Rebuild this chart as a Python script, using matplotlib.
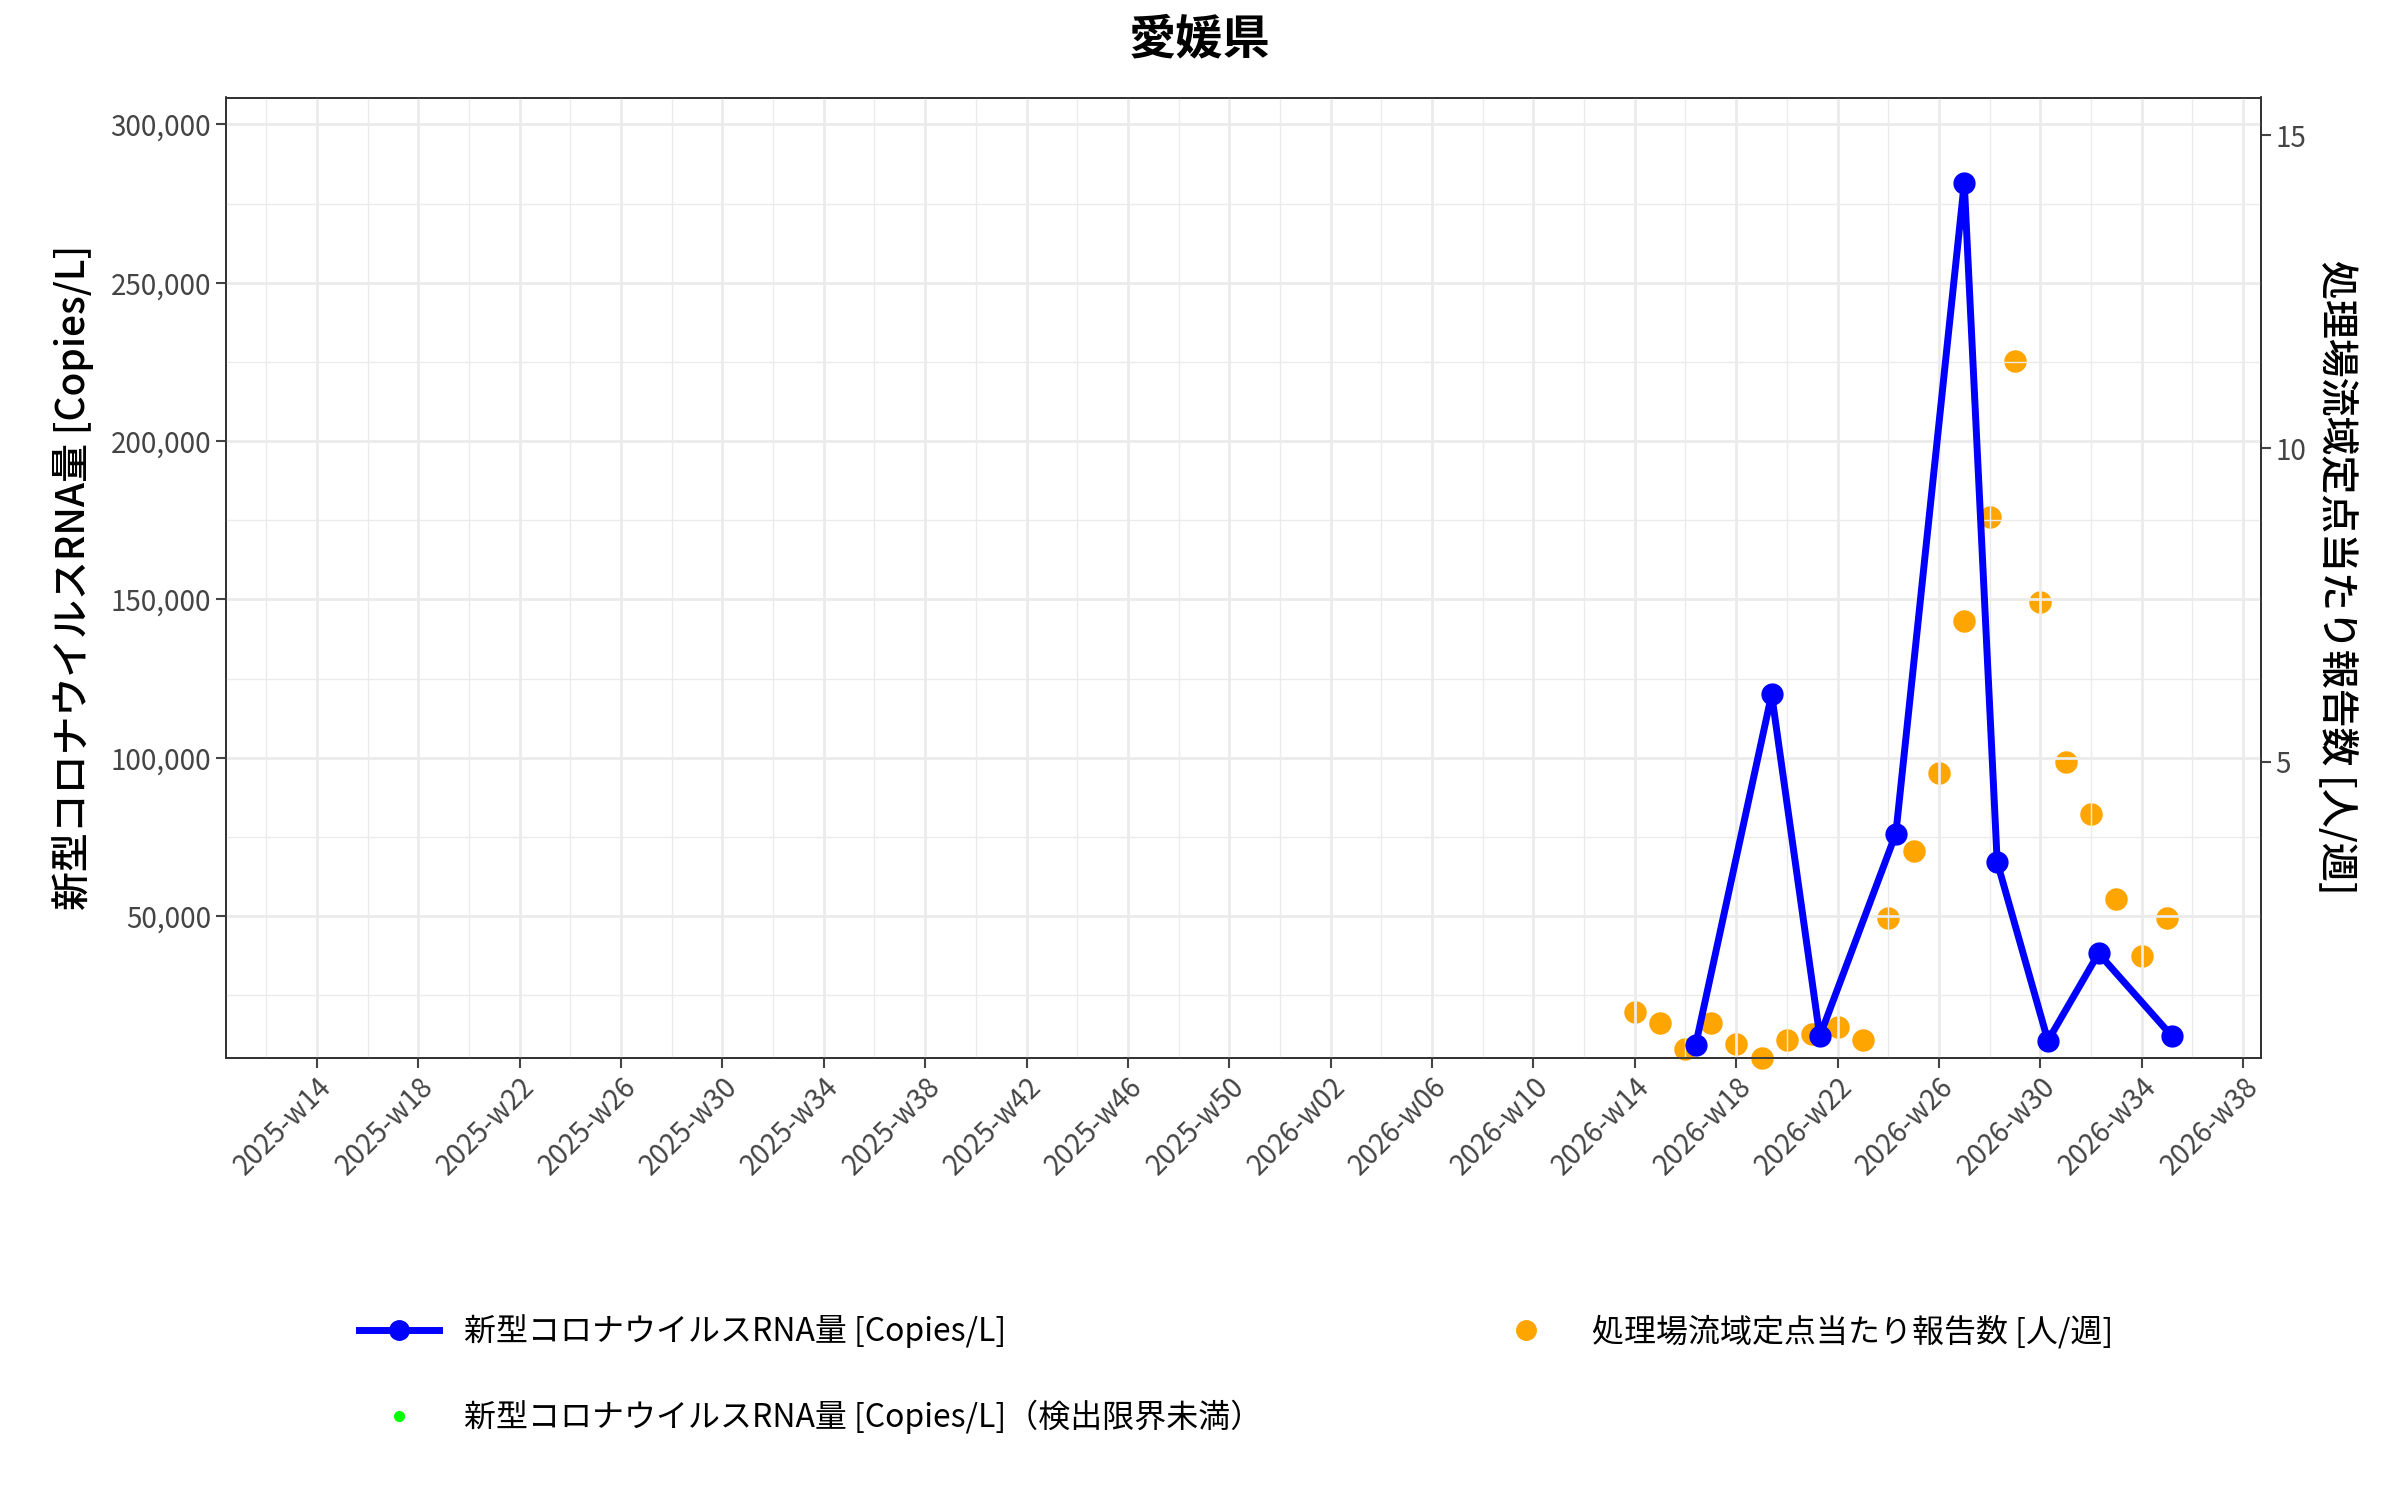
import matplotlib
matplotlib.use("Agg")
import matplotlib.pyplot as plt
from matplotlib.lines import Line2D

plt.rcParams['font.family'] = ['Noto Sans CJK JP', 'DejaVu Sans']

# x index: 2025-wK -> K-14 ; 2026-wK -> 38+K
tick_labels = ["2025-w14","2025-w18","2025-w22","2025-w26","2025-w30","2025-w34","2025-w38",
               "2025-w42","2025-w46","2025-w50","2026-w02","2026-w06","2026-w10","2026-w14",
               "2026-w18","2026-w22","2026-w26","2026-w30","2026-w34","2026-w38"]
tick_pos = list(range(0, 80, 4))

rna_x = [54.4, 57.4, 59.3, 62.3, 65.0, 66.3, 68.3, 70.3, 73.2]
rna_y = [9200, 120000, 12000, 76000, 281500, 67000, 10600, 38200, 12000]

rep_x = list(range(52, 74))
rep_y = [1.0, 0.83, 0.42, 0.83, 0.49, 0.27, 0.56, 0.66, 0.76, 0.56, 2.5, 3.57,
         4.82, 7.24, 8.9, 11.4, 7.55, 5.0, 4.16, 2.81, 1.9, 2.5]

fig = plt.figure(figsize=(24, 15), dpi=100)
ax = fig.add_axes([0.094, 0.295, 0.848, 0.64])
ax2 = ax.twinx()
ax.set_zorder(ax2.get_zorder() + 1)
ax.patch.set_visible(False)

ax2.scatter(rep_x, rep_y, s=230, color='#FFA500', zorder=3, clip_on=False)
ax.plot(rna_x, rna_y, color='#0000FF', lw=5, marker='o', ms=15, zorder=4)

ax.set_xlim(-3.6, 76.7)
ax.set_ylim(5300, 308500)
ax2.set_ylim(0.28, 15.6)
ax.set_xticks(tick_pos)
ax.set_xticklabels(tick_labels, rotation=45, ha='right', rotation_mode='anchor', fontsize=20, color='#444444')
ax.set_xticks(range(-2, 78, 2), minor=True)
ax.set_yticks([50000, 100000, 150000, 200000, 250000, 300000])
ax.set_yticks([25000, 75000, 125000, 175000, 225000, 275000], minor=True)
ax.yaxis.set_major_formatter(matplotlib.ticker.FuncFormatter(lambda v, p: f"{int(v):,}"))
ax2.set_yticks([5, 10, 15])
ax.tick_params(axis='y', labelsize=20, colors='#444444', length=7, width=1.5)
ax.tick_params(axis='x', length=7, width=1.5, colors='#444444')
ax.tick_params(which='minor', length=0)
ax2.tick_params(axis='y', labelsize=20, colors='#444444', length=7, width=1.5)
ax.grid(True, which='major', color='#EBEBEB', lw=2)
ax.grid(True, which='minor', color='#EBEBEB', lw=1)
ax2.grid(False)
for a in (ax, ax2):
    for s in a.spines.values():
        s.set_color('#333333'); s.set_linewidth(1.3)

ax.set_ylabel("新型コロナウイルスRNA量 [Copies/L]", fontsize=28, fontweight='medium', labelpad=12)
ax2.set_ylabel("処理場流域定点当たり報告数 [人/週]", fontsize=28, fontweight='medium', rotation=270, labelpad=36)
fig.suptitle("愛媛県", fontsize=34, fontweight='bold', y=0.99)

handles = [
    Line2D([], [], color='#0000FF', lw=5, marker='o', ms=14),
    Line2D([], [], color='#FFA500', lw=0, marker='o', ms=14),
    Line2D([], [], color='#00FF00', lw=0, marker='o', ms=7),
]
labels = ["新型コロナウイルスRNA量 [Copies/L]", "処理場流域定点当たり報告数 [人/週]",
          "新型コロナウイルスRNA量 [Copies/L]（検出限界未満）"]
order = [0, 2, 1]
fig.legend([handles[i] for i in order], [labels[i] for i in order], ncol=2,
           loc='lower center', bbox_to_anchor=(0.515, 0.025), frameon=False, fontsize=23,
           columnspacing=7, labelspacing=1.6, handlelength=2.5)

fig.savefig("out.png", dpi=100)
